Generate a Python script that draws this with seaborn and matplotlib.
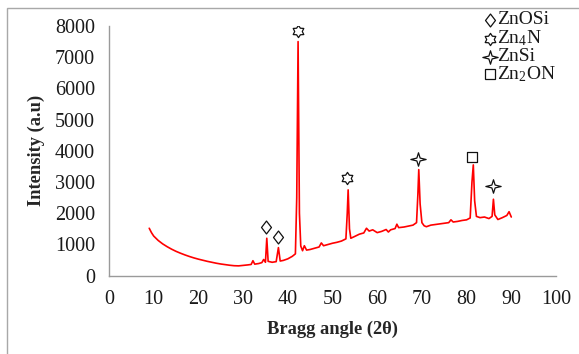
import numpy as np
import pandas as pd
import matplotlib
matplotlib.use("Agg")
import matplotlib.pyplot as plt
from matplotlib.lines import Line2D
from matplotlib.path import Path
from matplotlib.patches import Rectangle
import seaborn as sns

# ---- data ----
two_theta = [9.0, 9.5, 10, 11, 12, 13, 14, 15, 16, 17, 18, 19, 20, 21, 22, 23, 24, 25,
             26, 27, 28, 29, 30, 31, 31.8, 32.2, 32.6, 33.5, 34.2, 34.6, 35.0, 35.3, 35.6,
             36.5, 37.4, 37.9, 38.3, 39, 40, 41, 41.7, 42.0, 42.3, 42.6, 42.9, 43.3, 43.7,
             44.2, 45, 46, 47, 47.5, 48, 49, 50, 51, 52, 53, 53.3, 53.5, 53.8, 54.1, 55,
             56, 57, 57.6, 58.2, 59, 60, 61, 62, 62.5, 63, 64, 64.4, 64.8, 66, 67, 68,
             68.8, 69.1, 69.3, 69.6, 70, 70.5, 71, 72, 73, 74, 75, 76, 76.5, 77, 78, 79,
             80, 80.8, 81.2, 81.5, 81.8, 82.2, 83, 84, 85, 85.7, 86, 86.3, 87, 88, 89,
             89.5, 90]
intensity = [1520, 1380, 1270, 1130, 1020, 930, 850, 780, 720, 665, 615, 570, 530, 495,
             460, 430, 400, 375, 355, 335, 320, 315, 330, 345, 360, 480, 370, 390, 420,
             520, 430, 1200, 460, 430, 450, 900, 470, 490, 540, 620, 700, 2500, 7500,
             2000, 950, 800, 960, 820, 840, 880, 920, 1050, 960, 1000, 1040, 1070, 1110,
             1180, 2000, 2750, 1500, 1200, 1260, 1330, 1370, 1520, 1430, 1470, 1380, 1420,
             1480, 1400, 1470, 1510, 1650, 1540, 1560, 1590, 1620, 1700, 2600, 3400, 2300,
             1700, 1600, 1570, 1620, 1640, 1660, 1680, 1700, 1790, 1720, 1740, 1770, 1790,
             1850, 3000, 3550, 2400, 1900, 1860, 1880, 1830, 1900, 2450, 1950, 1800, 1860,
             1930, 2050, 1880]

phase_names = ["ZnOSi", "ZnOSi", "Zn4N", "Zn4N", "ZnSi", "ZnSi", "Zn2ON"]
phase_x = [35.2, 37.7, 42.3, 53.3, 69.2, 85.9, 81.3]
phase_y = [1560, 1240, 7850, 3120, 3740, 2870, 3790]

legend_labels = ["ZnOSi", "Zn$_4$N", "ZnSi", "Zn$_2$ON"]
legend_keys = ["ZnOSi", "Zn4N", "ZnSi", "Zn2ON"]

x_ticks = list(range(0, 101, 10))
y_ticks = list(range(0, 8001, 1000))


def star_path(n, inner, sx=1.0, sy=1.0):
    verts = []
    for i in range(2 * n):
        r = 1.0 if i % 2 == 0 else inner
        a = np.pi / 2 + i * np.pi / n
        verts.append((sx * r * np.cos(a), sy * r * np.sin(a)))
    verts.append(verts[0])
    codes = [Path.MOVETO] + [Path.LINETO] * (2 * n - 1) + [Path.CLOSEPOLY]
    return Path(verts, codes)


diamond = Path([(0, 1), (0.77, 0), (0, -1), (-0.77, 0), (0, 1)],
               [Path.MOVETO, Path.LINETO, Path.LINETO, Path.LINETO, Path.CLOSEPOLY])

# marker, size in points
marker_map = {
    "ZnOSi": (diamond, 9.3),
    "Zn4N": (star_path(6, 0.62), 8.8),
    "ZnSi": (star_path(4, 0.3, 1.0, 0.88), 11.0),
    "Zn2ON": ("s", 7.6),
}

sns.set_style("white")
plt.rcParams["font.family"] = ["Liberation Serif", "DejaVu Serif"]
plt.rcParams["mathtext.fontset"] = "custom"
plt.rcParams["mathtext.rm"] = "Liberation Serif"
plt.rcParams["mathtext.it"] = "Liberation Serif:italic"
plt.rcParams["mathtext.bf"] = "Liberation Serif:bold"

fig = plt.figure(figsize=(5.79, 3.54), dpi=100)
fig.patches.append(Rectangle((7 / 579, -0.1), 1.2, (354 - 8) / 354 + 0.1,
                             transform=fig.transFigure, fill=False,
                             edgecolor="#a8a8a8", linewidth=1.0))
ax = fig.add_axes([109 / 579, 78.3 / 354, 447 / 579, 249.7 / 354])

df = pd.DataFrame({"x": two_theta, "y": intensity})
sns.lineplot(data=df, x="x", y="y", ax=ax, color="#ff0000", linewidth=1.2)

pdf = pd.DataFrame({"x": phase_x, "y": phase_y, "phase": phase_names})
for key in legend_keys:
    sub = pdf[pdf["phase"] == key]
    m, s = marker_map[key]
    sns.scatterplot(data=sub, x="x", y="y", ax=ax, marker=m, s=s ** 2,
                    facecolor="white", edgecolor="#111111", linewidth=0.9, zorder=5)

ax.set_xlim(0, 100)
ax.set_ylim(0, 8000)
ax.set_xticks(x_ticks)
ax.set_yticks(y_ticks)
ax.tick_params(axis="both", labelsize=14.5, length=5, width=1, color="#8a8a8a",
               labelcolor="#1a1a1a", direction="out", pad=5)
for side in ["top", "right"]:
    ax.spines[side].set_visible(False)
for side in ["left", "bottom"]:
    ax.spines[side].set_color("#9a9a9a")
    ax.spines[side].set_linewidth(1.0)

ax.set_xlabel("Bragg angle (2θ)", fontsize=13.3, fontweight="bold", labelpad=9)
ax.set_ylabel("Intensity (a.u)", fontsize=13.3, fontweight="bold", labelpad=7)

# legend drawn at the figure's top right, as in the reference
row_y = [20, 38.5, 56.5, 74]
for key, lab, yy in zip(legend_keys, legend_labels, row_y):
    m, s = marker_map[key]
    fy = 1 - yy / 354
    fig.add_artist(Line2D([489.5 / 579], [fy], transform=fig.transFigure,
                          linestyle="none", marker=m, markersize=s,
                          markerfacecolor="white", markeredgecolor="#111111",
                          markeredgewidth=0.9))
    fig.text(497 / 579, fy, lab, fontsize=14, va="center", ha="left",
             color="#1a1a1a")

fig.savefig("out.png", dpi=100)
